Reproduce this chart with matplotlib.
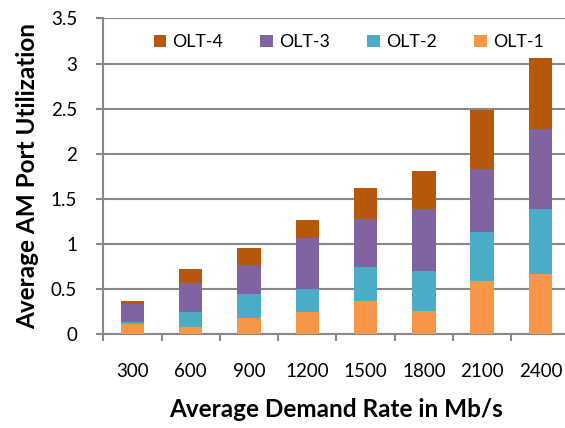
import matplotlib
matplotlib.use("Agg")
import matplotlib.pyplot as plt
import numpy as np

plt.rcParams['font.family'] = ['Lato', 'DejaVu Sans']

rates = ['300', '600', '900', '1200', '1500', '1800', '2100', '2400']
olt1 = [0.11, 0.084, 0.184, 0.25, 0.372, 0.261, 0.59, 0.664]
olt2 = [0.023, 0.163, 0.266, 0.255, 0.37, 0.439, 0.546, 0.723]
olt3 = [0.202, 0.321, 0.314, 0.561, 0.538, 0.684, 0.694, 0.886]
olt4 = [0.035, 0.159, 0.188, 0.196, 0.337, 0.424, 0.657, 0.783]

colors = {'OLT-1': '#F79646', 'OLT-2': '#4BACC6', 'OLT-3': '#8064A2', 'OLT-4': '#B7570A'}
grey = '#888888'

fig = plt.figure(figsize=(5.65, 4.28), dpi=100)
ax = fig.add_axes([0.183, 0.219, 0.825, 0.738])

x = np.arange(len(rates))
w = 0.4
bottom = np.zeros(len(rates))
handles = {}
for name, vals in [('OLT-1', olt1), ('OLT-2', olt2), ('OLT-3', olt3), ('OLT-4', olt4)]:
    handles[name] = ax.bar(x, vals, w, bottom=bottom, color=colors[name], zorder=3, label=name)
    bottom = bottom + np.array(vals)

ax.set_xlim(-0.5, len(rates) - 0.5)
ax.set_ylim(0, 3.5)
ax.set_yticks(np.arange(0, 3.51, 0.5))
ax.set_yticklabels(['0', '0.5', '1', '1.5', '2', '2.5', '3', '3.5'])
ax.set_xticks(x)
ax.set_xticklabels(rates)
ax.set_xticks(np.arange(-0.5, len(rates)), minor=True)
ax.tick_params(axis='x', which='major', length=0, pad=21, labelsize=13.5)
ax.tick_params(axis='x', which='minor', length=5, width=1.5, color=grey)
ax.tick_params(axis='y', length=5, width=1.5, color=grey, pad=14, labelsize=13.5)

ax.grid(axis='y', color=grey, linewidth=1.5, zorder=0)
for s in ['top', 'right']:
    ax.spines[s].set_visible(False)
for s in ['left', 'bottom']:
    ax.spines[s].set_color(grey)
    ax.spines[s].set_linewidth(1.5)

ax.set_xlabel('Average Demand Rate in Mb/s', fontsize=17.5, fontweight='bold', labelpad=13)
ax.set_ylabel('Average AM Port Utilization', fontsize=17.5, fontweight='bold', labelpad=8)

order = ['OLT-4', 'OLT-3', 'OLT-2', 'OLT-1']
ax.legend([handles[n] for n in order], order, loc='upper center', bbox_to_anchor=(0.526, 1.0),
          ncol=4, frameon=False, fontsize=12.8, handlelength=0.7, handleheight=0.7,
          handletextpad=0.35, columnspacing=2.1, borderaxespad=0.5)

fig.savefig('out.png', dpi=100)
